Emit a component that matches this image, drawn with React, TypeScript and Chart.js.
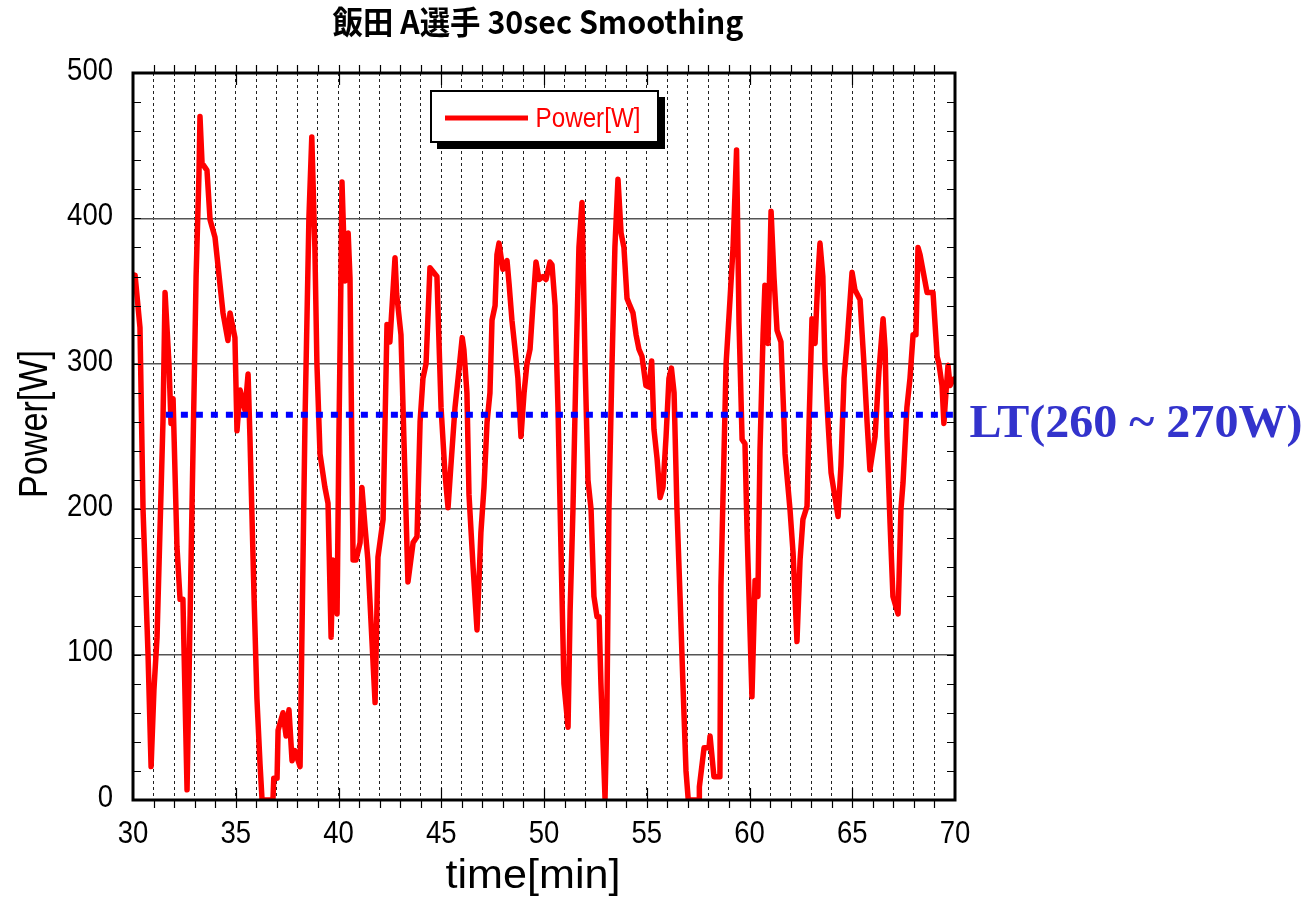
import React, { useEffect, useRef } from "react";
import { Chart, registerables } from "chart.js";

Chart.register(...registerables);

const TITLE = "飯田 A選手 30sec Smoothing";
const X_TITLE = "time[min]";
const Y_TITLE = "Power[W]";
const SERIES_LABEL = "Power[W]";
const LT_LABEL = "LT(260 ~ 270W)";

const xTickLabels = [30, 35, 40, 45, 50, 55, 60, 65, 70];
const yTickLabels = [0, 100, 200, 300, 400, 500];

const ltLevel = 265;
const ltStart = 31.6;
const ltEnd = 70;

const times = [
  30.0, 30.1, 30.34, 30.49, 30.73, 30.88, 31.02, 31.17, 31.46, 31.56, 31.75, 31.85, 31.95, 32.14, 32.29, 32.43, 32.63, 32.87,
  33.07, 33.21, 33.26, 33.36, 33.6, 33.75, 33.99, 34.14, 34.38, 34.62, 34.72, 34.96, 35.06, 35.21, 35.45, 35.6, 35.69, 35.89,
  36.03, 36.18, 36.28, 36.81, 36.85, 37.01, 37.06, 37.3, 37.45, 37.59, 37.74, 37.88, 38.13, 38.37, 38.56, 38.7, 38.85, 38.95,
  39.1, 39.34, 39.49, 39.64, 39.73, 39.93, 40.02, 40.12, 40.17, 40.32, 40.47, 40.56, 40.62, 40.71, 40.85, 41.05, 41.14, 41.29,
  41.43, 41.78, 41.92, 42.17, 42.36, 42.5, 42.75, 42.83, 43.04, 43.19, 43.38, 43.63, 43.82, 43.97, 44.11, 44.26, 44.45, 44.79,
  44.99, 45.18, 45.33, 45.47, 45.67, 45.82, 46.02, 46.1, 46.25, 46.35, 46.55, 46.74, 46.93, 47.08, 47.23, 47.37, 47.47, 47.62,
  47.71, 47.81, 48.0, 48.2, 48.3, 48.44, 48.59, 48.73, 48.88, 49.03, 49.17, 49.32, 49.46, 49.61, 49.76, 49.95, 50.1, 50.29,
  50.39, 50.54, 50.68, 50.83, 50.97, 51.17, 51.27, 51.41, 51.56, 51.7, 51.85, 52.0, 52.14, 52.29, 52.43, 52.58, 52.68, 52.77,
  52.97, 53.06, 53.16, 53.31, 53.45, 53.6, 53.75, 53.89, 54.04, 54.18, 54.33, 54.48, 54.62, 54.77, 54.96, 55.11, 55.24, 55.35,
  55.5, 55.65, 55.79, 55.94, 56.08, 56.2, 56.33, 56.47, 56.62, 56.76, 56.91, 57.02, 57.55, 57.56, 57.79, 58.03, 58.08, 58.27,
  58.56, 58.61, 58.86, 59.05, 59.2, 59.37, 59.49, 59.64, 59.78, 59.88, 60.12, 60.27, 60.41, 60.51, 60.66, 60.75, 60.9, 61.05,
  61.19, 61.34, 61.53, 61.68, 61.73, 61.97, 62.12, 62.31, 62.46, 62.6, 62.8, 62.9, 63.04, 63.19, 63.33, 63.43, 63.57, 63.67,
  63.82, 63.97, 64.16, 64.31, 64.45, 64.6, 64.75, 64.99, 65.13, 65.38, 65.57, 65.72, 65.86, 66.11, 66.3, 66.5, 66.6, 66.69,
  66.84, 66.98, 67.23, 67.37, 67.47, 67.66, 67.81, 67.96, 68.1, 68.2, 68.3, 68.64, 68.93, 69.13, 69.22, 69.37, 69.46, 69.56,
  69.66, 69.76, 69.9, 70.0,
];

const power = [
  350, 361, 325, 199, 101, 23, 76, 112, 261, 349, 300, 259, 276, 174, 138, 138, 7, 201,
  360, 430, 470, 438, 433, 399, 387, 367, 335, 316, 335, 318, 254, 282, 268, 293, 250, 140,
  70, 25, 0, 0, 15, 15, 48, 60, 44, 62, 27, 34, 23, 261, 400, 456, 380, 300,
  238, 215, 204, 112, 165, 128, 250, 360, 425, 357, 390, 359, 280, 165, 165, 177, 215, 188,
  165, 67, 167, 193, 327, 315, 373, 348, 320, 245, 150, 177, 181, 260, 290, 300, 366, 360,
  270, 225, 201, 230, 270, 290, 318, 310, 280, 210, 160, 117, 184, 215, 260, 280, 330, 340,
  375, 383, 365, 371, 355, 330, 310, 290, 250, 280, 300, 310, 340, 370, 358, 360, 358, 370,
  368, 340, 270, 170, 80, 50, 130, 200, 300, 380, 411, 300, 220, 200, 140, 126, 126, 80,
  1, 60, 200, 300, 380, 427, 390, 380, 345, 340, 335, 320, 310, 305, 285, 284, 302, 255,
  235, 208, 215, 250, 290, 297, 280, 200, 140, 80, 20, 0, 0, 9, 36, 36, 44, 16,
  16, 147, 300, 344, 380, 447, 328, 248, 245, 186, 71, 151, 140, 240, 320, 354, 314, 405,
  360, 323, 315, 260, 238, 200, 170, 109, 165, 193, 202, 260, 331, 314, 360, 383, 360, 300,
  260, 225, 208, 195, 230, 290, 315, 363, 351, 344, 300, 260, 227, 250, 295, 331, 310, 250,
  190, 140, 128, 200, 218, 270, 290, 320, 320, 380, 375, 349, 349, 305, 300, 285, 259, 280,
  299, 285, 289, 290,
];

function fitText(
  ctx: CanvasRenderingContext2D,
  text: string,
  font: string,
  cx: number,
  cy: number,
  width: number,
  color: string,
  rot = 0
) {
  ctx.save();
  ctx.font = font;
  const m = ctx.measureText(text).width;
  ctx.translate(cx, cy);
  if (rot) ctx.rotate(rot);
  ctx.scale(width / m, 1);
  ctx.fillStyle = color;
  ctx.textAlign = "center";
  ctx.textBaseline = "middle";
  ctx.fillText(text, 0, 0);
  ctx.restore();
}

const decoPlugin = {
  id: "deco",
  afterDatasetsDraw(chart: any) {
    const ctx: CanvasRenderingContext2D = chart.ctx;
    const { left, right, top, bottom } = chart.chartArea;
    const xs = chart.scales.x;
    const ys = chart.scales.y;
    ctx.save();
    ctx.strokeStyle = "#000";
    ctx.lineWidth = 1.2;
    ctx.setLineDash([]);
    for (let v = 20; v < 500; v += 20) {
      const y = Math.round(ys.getPixelForValue(v)) + 0.5;
      ctx.beginPath();
      ctx.moveTo(left, y);
      ctx.lineTo(left + 8, y);
      ctx.moveTo(right, y);
      ctx.lineTo(right - 8, y);
      ctx.stroke();
    }
    for (let t = 31; t < 70; t++) {
      const x = Math.round(xs.getPixelForValue(t)) + 0.5;
      ctx.beginPath();
      ctx.moveTo(x, bottom);
      ctx.lineTo(x, bottom + 8);
      ctx.moveTo(x, top);
      ctx.lineTo(x, top - 8);
      if (t % 5 === 0) {
        ctx.moveTo(x, bottom);
        ctx.lineTo(x, bottom - 12);
        ctx.moveTo(x, top);
        ctx.lineTo(x, top + 12);
      }
      ctx.stroke();
    }
    ctx.lineWidth = 3;
    ctx.strokeRect(left, top, right - left, bottom - top);
    ctx.restore();
  },
  afterDraw(chart: any) {
    const ctx: CanvasRenderingContext2D = chart.ctx;
    const xs = chart.scales.x;
    const ys = chart.scales.y;

    ctx.save();
    ctx.fillStyle = "#000";
    ctx.font = "32px 'Liberation Sans', Arial, sans-serif";
    ctx.textBaseline = "middle";
    for (const v of yTickLabels) {
      const y = ys.getPixelForValue(v);
      ctx.save();
      ctx.translate(113, y - 2);
      ctx.scale(0.86, 1);
      ctx.textAlign = "right";
      ctx.fillText(String(v), 0, 0);
      ctx.restore();
    }
    for (const v of xTickLabels) {
      const x = xs.getPixelForValue(v);
      ctx.save();
      ctx.translate(x, 834);
      ctx.scale(0.86, 1);
      ctx.textAlign = "center";
      ctx.fillText(String(v), 0, 0);
      ctx.restore();
    }
    ctx.restore();

    fitText(ctx, TITLE, "bold 32px 'Noto Sans CJK JP', sans-serif", 538, 22, 411, "#000");
    fitText(ctx, X_TITLE, "40px 'Liberation Sans', Arial, sans-serif", 533, 877, 175, "#000");
    fitText(ctx, Y_TITLE, "40px 'Liberation Sans', Arial, sans-serif", 36, 424, 148, "#000", -Math.PI / 2);

    fitText(ctx, LT_LABEL, "bold 46px 'Liberation Serif', 'Times New Roman', serif", 1136, 425, 333, "#3333cc");

    ctx.save();
    ctx.fillStyle = "#000";
    ctx.fillRect(437, 97, 228, 52);
    ctx.fillStyle = "#fff";
    ctx.fillRect(431, 91, 227, 51);
    ctx.strokeStyle = "#000";
    ctx.lineWidth = 2;
    ctx.strokeRect(431, 91, 227, 51);
    ctx.strokeStyle = "#ff0000";
    ctx.lineWidth = 5;
    ctx.beginPath();
    ctx.moveTo(445, 118);
    ctx.lineTo(528, 118);
    ctx.stroke();
    ctx.restore();
    fitText(ctx, SERIES_LABEL, "28px 'Liberation Sans', Arial, sans-serif", 588, 119, 105, "#ff0000");
  },
};

export default function App() {
  const ref = useRef<HTMLCanvasElement | null>(null);
  useEffect(() => {
    if (!ref.current) return;
    const chart = new Chart(ref.current, {
      type: "line",
      data: {
        datasets: [
          {
            label: "LT",
            data: [
              { x: ltStart, y: ltLevel },
              { x: ltEnd, y: ltLevel },
            ],
            borderColor: "#0000ff",
            borderWidth: 6,
            borderDash: [7, 8],
            borderCapStyle: "butt",
            pointRadius: 0,
            order: 0,
          },
          {
            label: SERIES_LABEL,
            data: times.map((t, i) => ({ x: t, y: power[i] })),
            borderColor: "#ff0000",
            borderWidth: 5.5,
            borderJoinStyle: "round",
            pointRadius: 0,
            tension: 0,
            order: 1,
          },
        ],
      },
      options: {
        animation: false,
        responsive: false,
        layout: { padding: { left: 133, right: 353, top: 73, bottom: 97 } },
        plugins: { legend: { display: false }, tooltip: { enabled: false }, title: { display: false } },
        scales: {
          x: {
            type: "linear",
            min: 30,
            max: 70,
            afterFit: (s: any) => {
              s.height = 0;
            },
            ticks: { display: false, stepSize: 1 },
            grid: {
              drawTicks: false,
              color: (c: any) => (c.tick && (c.tick.value === 30 || c.tick.value === 70) ? "rgba(0,0,0,0)" : "#222"),
              lineWidth: 1,
            },
            border: { display: false, dash: [3, 3] },
          },
          y: {
            type: "linear",
            min: 0,
            max: 500,
            afterFit: (s: any) => {
              s.width = 0;
            },
            ticks: { display: false, stepSize: 100 },
            grid: { drawTicks: false, color: "#555", lineWidth: 1.5 },
            border: { display: false },
          },
        },
      },
      plugins: [decoPlugin],
    });
    return () => chart.destroy();
  }, []);
  return (
    <div style={{ position: "absolute", left: 0, top: 0, width: 1308, height: 897 }}>
      <canvas ref={ref} width={1308} height={897} style={{ display: "block" }} />
    </div>
  );
}
